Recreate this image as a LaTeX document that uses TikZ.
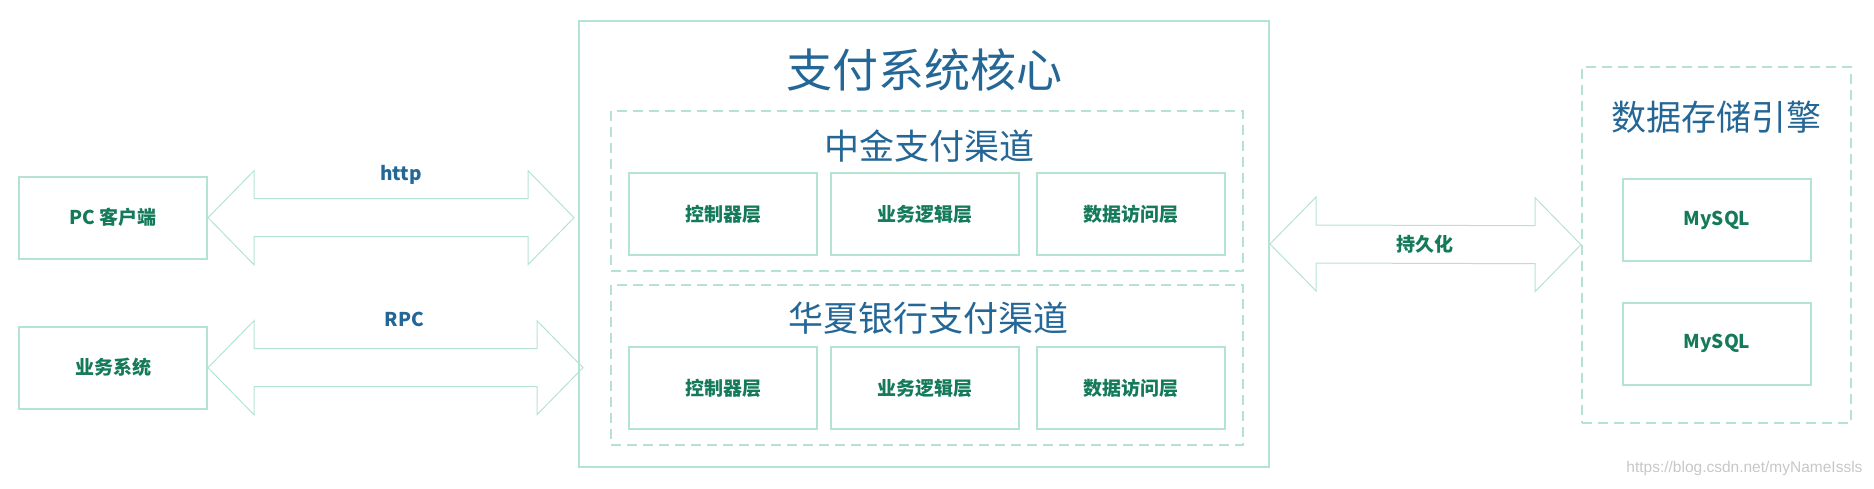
\documentclass[tikz,border=0pt]{standalone}
\usepackage{fontspec}
\setmainfont{Noto Sans CJK SC}
\newfontfamily\markfont{Liberation Sans}
\usetikzlibrary{calc}
\usepackage{xcolor}

\definecolor{mint}{RGB}{181,227,211}
\definecolor{titleblue}{RGB}{36,103,150}
\definecolor{labelgreen}{RGB}{21,122,90}

% block arrow with two heads, #1 = left tip, #2 = right tip
\newcommand{\dblarrow}[2]{%
  \draw [flow] (#1) -- ($(#1)+(46,-47)$) -- ($(#1)+(46,-19)$) -- ($(#2)+(-46,-19)$) -- ($(#2)+(-46,-47)$) -- (#2)
    -- ($(#2)+(-46,47)$) -- ($(#2)+(-46,19)$) -- ($(#1)+(46,19)$) -- ($(#1)+(46,47)$) -- cycle ;}

\begin{document}
\begin{tikzpicture}[x=1pt,y=-1pt,
  box/.style={draw=mint, line width=2pt, minimum width=188pt, minimum height=82pt, text=labelgreen, font=\bfseries\fontsize{19}{22}\selectfont},
  group/.style={draw=mint, line width=2pt, dash pattern=on 10pt off 6pt},
  flow/.style={draw=mint, line width=1pt, line join=miter},
  bigtitle/.style={text=titleblue, font=\fontsize{35}{40}\selectfont},
  linklabel/.style={text=titleblue, font=\bfseries\fontsize{19}{22}\selectfont}]

\useasboundingbox (0,0) rectangle (1874,488);

% callers on the left
\node [box] (pc)  at (113,217.7) {PC 客户端};
\node [box] (biz) at (113,367.7) {业务系统};

% payment core
\node [draw=mint, line width=2pt, minimum width=690pt, minimum height=446pt] (core) at (924,244) {};
\node [bigtitle, font=\fontsize{46}{50}\selectfont] (coretitle) at (924,70) {支付系统核心};

\node [group, minimum width=632pt, minimum height=160pt] (cicc) at (927,190.7) {};
\node [bigtitle] (ciccTitle) at (929,146) {中金支付渠道};
\node [box] (ciccCtrl) at (723,214)  {控制器层};
\node [box] (ciccBiz)  at (925,214)  {业务逻辑层};
\node [box] (ciccDao)  at (1131,214) {数据访问层};

\node [group, minimum width=632pt, minimum height=160pt] (hx) at (927,365) {};
\node [bigtitle] (hxTitle) at (928,318) {华夏银行支付渠道};
\node [box] (hxCtrl) at (723,388)  {控制器层};
\node [box] (hxBiz)  at (925,388)  {业务逻辑层};
\node [box] (hxDao)  at (1131,388) {数据访问层};

% storage engine
\node [group, minimum width=269pt, minimum height=356pt] (store) at (1716.5,244.7) {};
\node [bigtitle] (storeTitle) at (1716.5,117) {数据存储引擎};
\node [box] (db1) at (1717,220)   {MySQL};
\node [box] (db2) at (1717,343.7) {MySQL};

% links
\coordinate (httpEnd) at ($(core.west |- pc.east)+(-4,0)$);
\coordinate (rpcEnd)  at ($(core.west |- biz.east)+(5,0)$);
\dblarrow{pc.east}{httpEnd}
\dblarrow{biz.east}{rpcEnd}
\dblarrow{core.east}{store.west}
\node [linklabel] (httpLabel) at (401,175) {http};
\node [linklabel] (rpcLabel)  at (404.5,319) {RPC};
\node [linklabel, text=labelgreen] (saveLabel) at (1425,244) {持久化};

\node [text=black!22, font=\markfont\fontsize{15.5}{18}\selectfont, anchor=east] (mark) at (1866,468) {https://blog.csdn.net/myNameIssls};

\end{tikzpicture}
\end{document}
